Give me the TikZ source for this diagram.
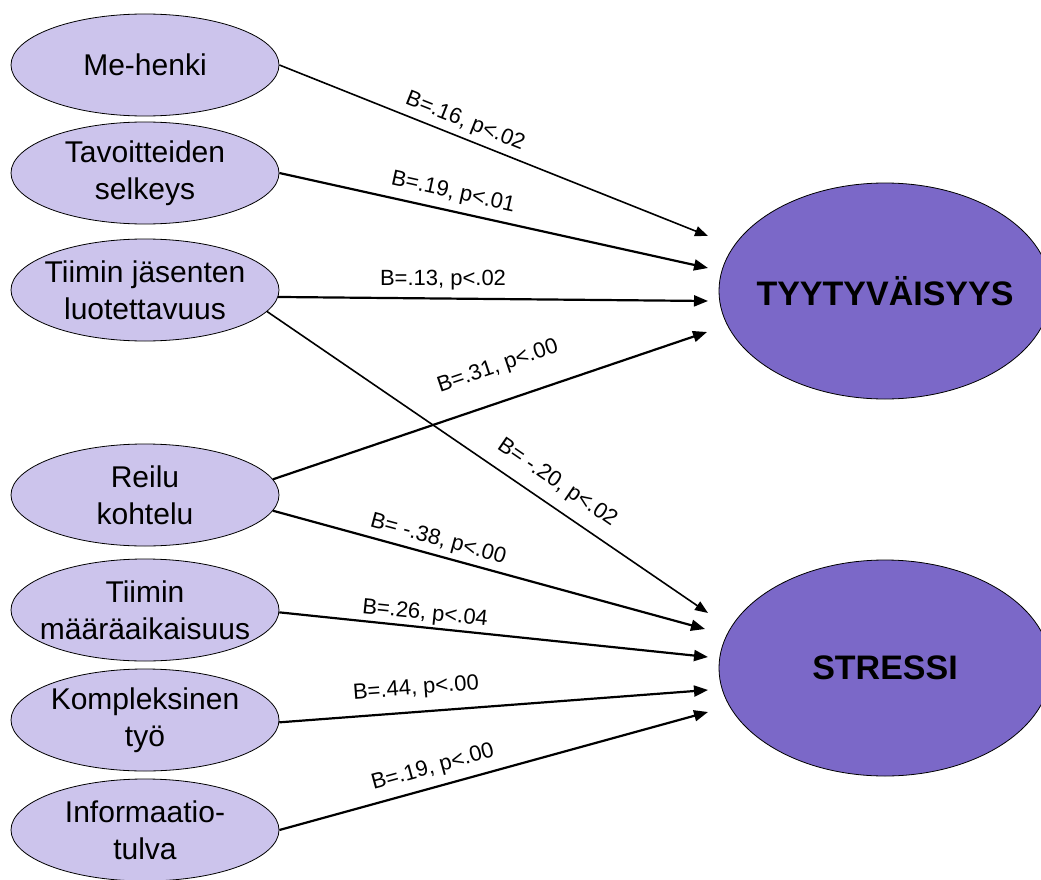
\documentclass[tikz,border=0pt]{standalone}
\usepackage{fontspec}
\setmainfont{Liberation Sans}
\usetikzlibrary{shapes.geometric,arrows.meta}
\definecolor{smallfill}{RGB}{204,196,236}
\definecolor{bigfill}{RGB}{123,104,200}
\tikzset{
  factor/.style={ellipse, draw=black, line width=0.8pt, fill=smallfill,
    minimum width=268pt, minimum height=102pt, inner xsep=-40pt, inner ysep=-10pt,
    align=center, font=\fontsize{30}{37}\selectfont},
  outcome/.style={ellipse, draw=black, line width=0.8pt, fill=bigfill,
    minimum width=332pt, minimum height=216pt, inner xsep=-40pt, inner ysep=0pt,
    align=center, font=\fontsize{34}{40}\selectfont\bfseries},
  lbl/.style={inner sep=0pt, font=\fontsize{22}{26}\selectfont},
  conn/.style={line width=2.2pt, -{Triangle[length=14pt,width=11pt]}},
  thinconn/.style={line width=1.6pt, -{Triangle[length=13pt,width=10pt]}}
}
\begin{document}
\begin{tikzpicture}[x=1pt,y=-1pt]
\useasboundingbox (0,0) rectangle (1041,880);
% outcome ellipses
\node[outcome] (tyy) at (885,291) {TYYTYVÄISYYS};
\node[outcome] (str) at (885,668) {STRESSI};
% factor ellipses
\node[factor] (me) at (145,65) {Me-henki};
\node[factor] (tav) at (145,173) {Tavoitteiden\\selkeys};
\node[factor] (tj) at (145,290) {Tiimin jäsenten\\luotettavuus};
\node[factor] (reilu) at (145,495) {Reilu\\kohtelu};
\node[factor] (maar) at (145,610) {Tiimin\\määräaikaisuus};
\node[factor] (komp) at (145,720) {Kompleksinen\\työ};
\node[factor] (info) at (145,830) {Informaatio-\\tulva};
% arrow tips
\coordinate (t1) at (708,236);
\coordinate (t2) at (708,268);
\coordinate (t3) at (708,301);
\coordinate (t4) at (707,332);
\coordinate (s1) at (708,613);
\coordinate (s2) at (705,629);
\coordinate (s3) at (708,657);
\coordinate (s4) at (708,690);
\coordinate (s5) at (708,712);
% connectors
\draw[thinconn] (me.east) -- (t1);
\draw[conn] (tav.east) -- (t2);
\draw[conn] (tj.-3) -- (t3);
\draw[conn] (reilu.7.5) -- (t4);
\draw[thinconn] (tj.-10) -- (s1);
\draw[conn] (reilu.-7.5) -- (s2);
\draw[conn] (maar.-1.5) -- (s3);
\draw[conn] (komp.-1) -- (s4);
\draw[conn] (info.east) -- (s5);
% labels
\node[lbl, rotate=-21.7] (l1) at (465,122) {B=.16, p<.02};
\node[lbl, rotate=-12.5] (l2) at (453,193) {B=.19, p<.01};
\node[lbl] (l3) at (443,280) {B=.13, p<.02};
\node[lbl, rotate=18.7] (l4) at (498,367) {B=.31, p<.00};
\node[lbl, rotate=-34.4] (l5) at (557,483) {B= -.20, p<.02};
\node[lbl, rotate=-15.2] (l6) at (438,540) {B= -.38, p<.00};
\node[lbl, rotate=-5.8] (l7) at (425,614) {B=.26, p<.04};
\node[lbl, rotate=4.3] (l8) at (416,689) {B=.44, p<.00};
\node[lbl, rotate=15.4] (l9) at (433,768) {B=.19, p<.00};
\end{tikzpicture}
\end{document}
